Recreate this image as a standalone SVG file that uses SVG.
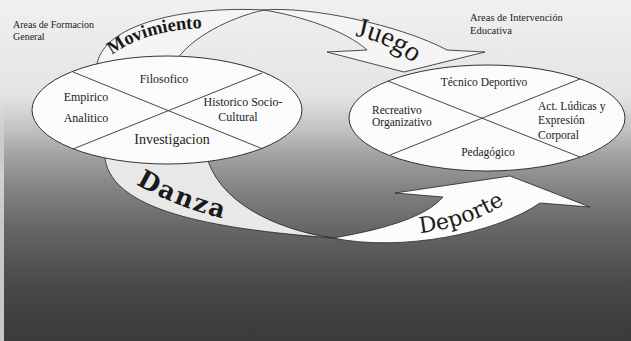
<svg xmlns="http://www.w3.org/2000/svg" width="631" height="341" viewBox="0 0 631 341">
  <defs>
    <linearGradient id="bg" x1="0" y1="0" x2="0" y2="1">
      <stop offset="0" stop-color="#f0f0f0"/>
      <stop offset="0.28" stop-color="#e4e4e4"/>
      <stop offset="0.38" stop-color="#c2c2c2"/>
      <stop offset="0.46" stop-color="#a0a0a0"/>
      <stop offset="0.55" stop-color="#848484"/>
      <stop offset="0.67" stop-color="#666666"/>
      <stop offset="0.83" stop-color="#4a4a4a"/>
      <stop offset="1" stop-color="#3a3a3a"/>
    </linearGradient>
    <linearGradient id="strip" x1="0" y1="0" x2="0" y2="1">
      <stop offset="0" stop-color="#f0f0f0" stop-opacity="0"/>
      <stop offset="0.3" stop-color="#e0e0e0" stop-opacity="0.8"/>
      <stop offset="1" stop-color="#d8d8d8" stop-opacity="0.9"/>
    </linearGradient>
    <path id="pMov" d="M112,55 Q145,30 204,28"/>
    <path id="pJue" d="M355,36 Q390,42 422,70"/>
    <path id="pDan" d="M136,184 Q180,210 242,223"/>
    <path id="pDep" d="M420,233 Q470,228 516,197"/>
  </defs>
  <style>
    .ell { fill: #fbfbfb; stroke: #333; stroke-width: 1; }
    .div { stroke: #333; stroke-width: 0.9; fill: none; }
    .t { font-family: "Liberation Serif", "Times New Roman", serif; fill: #222; }
    .rib { stroke: #222; stroke-width: 0.8; stroke-linejoin: round; }
    .big { font-family: "DejaVu Serif", "Liberation Serif", serif; fill: #1a1a1a; }
  </style>

  <rect x="0" y="0" width="631" height="341" fill="url(#bg)"/>
  <rect x="0" y="100" width="4" height="241" fill="url(#strip)"/>

  <g id="labels">
    <text class="t" x="13" y="28" font-size="10">Areas de Formacion</text>
    <text class="t" x="13" y="40" font-size="10">General</text>
    <text class="t" x="470" y="21" font-size="10.5">Areas de Intervención</text>
    <text class="t" x="470" y="34" font-size="10.5">Educativa</text>
  </g>

  <g id="connectors">
    <g id="movimiento-juego">
      <path class="rib" fill="#f5f5f5" d="M97,64 C105,22 190,6 264,10 C228,18 192,38 178,58 L178,72 L97,72 Z"/>
      <path class="rib" fill="#f5f5f5" d="M264,10 C310,6 400,25 447,50 L485,52 L404,72 L327,52 L367,50 C345,30 300,16 264,10 Z"/>
      <text font-family="Liberation Serif, serif" font-weight="bold" font-size="18.5" fill="#1a1a1a"><textPath href="#pMov">Movimiento</textPath></text>
      <text font-family="Liberation Serif, serif" font-size="28" fill="#1a1a1a"><textPath href="#pJue">Juego</textPath></text>
    </g>
    <g id="danza-deporte">
      <path class="rib" fill="#e8e8e8" d="M105,158 C112,215 230,230 333,238 C290,232 225,210 208,161 L200,150 L110,150 Z"/>
      <path class="rib" fill="#fcfcfc" d="M333,238 C400,252 495,234 540,203 L590,207 L510,176 L395,193 L443,197 C425,218 380,230 333,238 Z"/>
      <text class="big" font-weight="bold" font-size="25" letter-spacing="1.8"><textPath href="#pDan">Danza</textPath></text>
      <text class="big" font-size="22"><textPath href="#pDep">Deporte</textPath></text>
    </g>
  </g>

  <g id="formacion">
    <ellipse class="ell" cx="167" cy="110" rx="135" ry="54"/>
    <line class="div" x1="73" y1="72" x2="263" y2="149"/>
    <line class="div" x1="73" y1="149" x2="262" y2="73"/>
    <text class="t" x="164" y="83" font-size="12" text-anchor="middle">Filosofico</text>
    <text class="t" x="86" y="101" font-size="12" text-anchor="middle">Empirico</text>
    <text class="t" x="86" y="122" font-size="12" text-anchor="middle">Analitico</text>
    <text class="t" x="243" y="106" font-size="12" text-anchor="middle">Historico Socio-</text>
    <text class="t" x="238" y="121" font-size="12" text-anchor="middle">Cultural</text>
    <text class="t" x="172" y="144" font-size="14" text-anchor="middle">Investigacion</text>
  </g>

  <g id="intervencion">
    <ellipse class="ell" cx="487" cy="118" rx="138" ry="53"/>
    <line class="div" x1="388" y1="81" x2="580" y2="157"/>
    <line class="div" x1="390" y1="155" x2="580" y2="79"/>
    <text class="t" x="484" y="86" font-size="11.5" text-anchor="middle">Técnico Deportivo</text>
    <text class="t" x="372" y="114" font-size="11.5">Recreativo</text>
    <text class="t" x="372" y="126" font-size="11.5">Organizativo</text>
    <text class="t" x="538" y="110" font-size="11.5">Act. Lúdicas y</text>
    <text class="t" x="538" y="124" font-size="11.5">Expresión</text>
    <text class="t" x="538" y="139" font-size="11.5">Corporal</text>
    <text class="t" x="488" y="156" font-size="11.5" text-anchor="middle">Pedagógico</text>
  </g>
</svg>
